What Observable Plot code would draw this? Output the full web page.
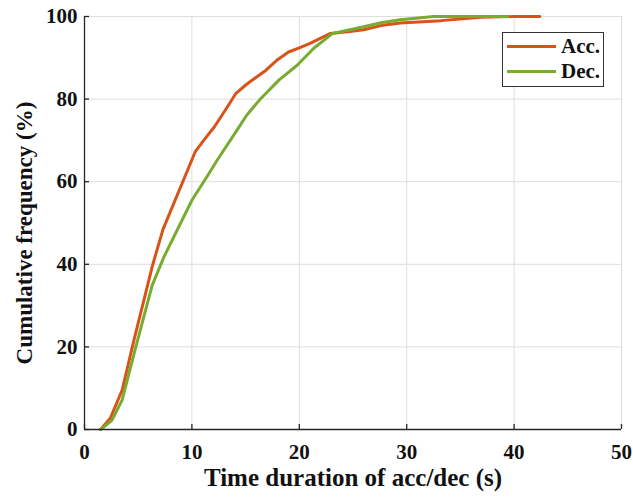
<!DOCTYPE html>
<html>
<head>
<meta charset="utf-8">
<script src="https://cdn.jsdelivr.net/npm/d3@7"></script>
<script src="https://cdn.jsdelivr.net/npm/@observablehq/plot@0.6"></script>
<style>
  html, body { margin: 0; padding: 0; background: #fff; }
  #wrap { position: relative; width: 633px; height: 497px; }
  #legend {
    position: absolute; left: 502px; top: 32px; width: 102px; height: 55px;
    border: 1px solid #333; background: #fff; box-sizing: border-box;
    font-family: "Liberation Serif", "Times New Roman", serif; font-weight: bold; font-size: 21px; color: #111;
  }
  .item { position: absolute; left: 4px; display: flex; align-items: center; }
  .swatch { width: 49px; height: 3px; margin-right: 5px; }
</style>
</head>
<body>
<div id="wrap"><div id="legend"></div></div>
<script>
// Data
const seriesNames = ["Acc.", "Dec."];
const seriesColors = ["#D95319", "#77AC30"];

const accX = [1.5, 2.4, 3.5, 4.6, 6.3, 7.3, 10.3, 11.1, 12.1, 13.3, 14.1, 15.1, 16.9, 17.9, 19.0, 20.0, 21.0, 22.9, 24.5, 26.0, 27.6, 29.4, 33.2, 36.9, 40.0, 42.4];
const accY = [0, 2.7, 9.5, 21.6, 39.4, 48.4, 67.2, 70.0, 73.3, 78.1, 81.4, 83.6, 87.0, 89.4, 91.4, 92.4, 93.5, 95.9, 96.3, 96.8, 97.8, 98.4, 99.0, 99.8, 100, 100];

const decX = [1.5, 2.55, 3.5, 4.7, 6.3, 7.4, 10.0, 11.4, 12.35, 14.2, 15.1, 16.4, 18.1, 19.8, 21.35, 23.1, 26.0, 27.6, 29.4, 32.5, 39.4];
const decY = [0, 2.2, 7.1, 19.2, 34.9, 41.8, 55.5, 61.2, 65.2, 72.5, 76.1, 80.1, 84.6, 88.2, 92.3, 95.9, 97.5, 98.5, 99.2, 100, 100];

const xTicks = [0, 10, 20, 30, 40, 50];
const yTicks = [0, 20, 40, 60, 80, 100];
const xTitle = "Time duration of acc/dec (s)";
const yTitle = "Cumulative frequency (%)";

const acc = accX.map((x, i) => ({x, y: accY[i], s: seriesNames[0]}));
const dec = decX.map((x, i) => ({x, y: decY[i], s: seriesNames[1]}));

const font = "'Liberation Serif', 'Times New Roman', serif";
const axisColor = "#262626";

const chart = Plot.plot({
  width: 633,
  height: 497,
  marginLeft: 84,
  marginRight: 12,
  marginTop: 16,
  marginBottom: 68,
  style: {fontFamily: font, fontWeight: "bold", fontSize: "21px", color: axisColor, background: "#fff", overflow: "visible"},
  x: {domain: [0, 50], label: null},
  y: {domain: [0, 100], label: null},
  marks: [
    Plot.gridX(xTicks, {stroke: "#dedede", strokeOpacity: 1, strokeWidth: 1}),
    Plot.gridY(yTicks, {stroke: "#dedede", strokeOpacity: 1, strokeWidth: 1}),
    Plot.line(acc, {x: "x", y: "y", stroke: seriesColors[0], strokeWidth: 3, strokeLinejoin: "round"}),
    Plot.line(dec, {x: "x", y: "y", stroke: seriesColors[1], strokeWidth: 3, strokeLinejoin: "round"}),
    Plot.ruleX([0], {stroke: axisColor, strokeWidth: 1.3}),
    Plot.ruleY([0], {stroke: axisColor, strokeWidth: 1.3}),
    // inward ticks
    Plot.axisX({ticks: xTicks, tickSize: -5, tickFormat: () => "", label: null, stroke: axisColor, strokeWidth: 1.3}),
    Plot.axisY({ticks: yTicks, tickSize: -5, tickFormat: () => "", label: null, stroke: axisColor, strokeWidth: 1.3}),
    // tick labels
    Plot.axisX({ticks: xTicks, tickSize: 0, tickPadding: 15, label: null, fill: "#111"}),
    Plot.axisY({ticks: yTicks, tickSize: 0, tickPadding: 7, label: null, fill: "#111"}),
    // axis titles
    Plot.text([xTitle], {frameAnchor: "bottom", dy: 56, fontSize: 25, fill: "#111"}),
    Plot.text([yTitle], {frameAnchor: "left", textAnchor: "middle", dx: -60, dy: 10, rotate: -90, fontSize: 23, fill: "#111"})
  ]
});

const wrap = document.getElementById("wrap");
wrap.insertBefore(chart, wrap.firstChild);

const legend = document.getElementById("legend");
seriesNames.forEach((name, i) => {
  const item = document.createElement("div");
  item.className = "item";
  item.style.top = (i === 0 ? 1 : 26) + "px";
  const sw = document.createElement("span");
  sw.className = "swatch";
  sw.style.background = seriesColors[i];
  const label = document.createElement("span");
  label.textContent = name;
  item.appendChild(sw);
  item.appendChild(label);
  legend.appendChild(item);
});
</script>
</body>
</html>
